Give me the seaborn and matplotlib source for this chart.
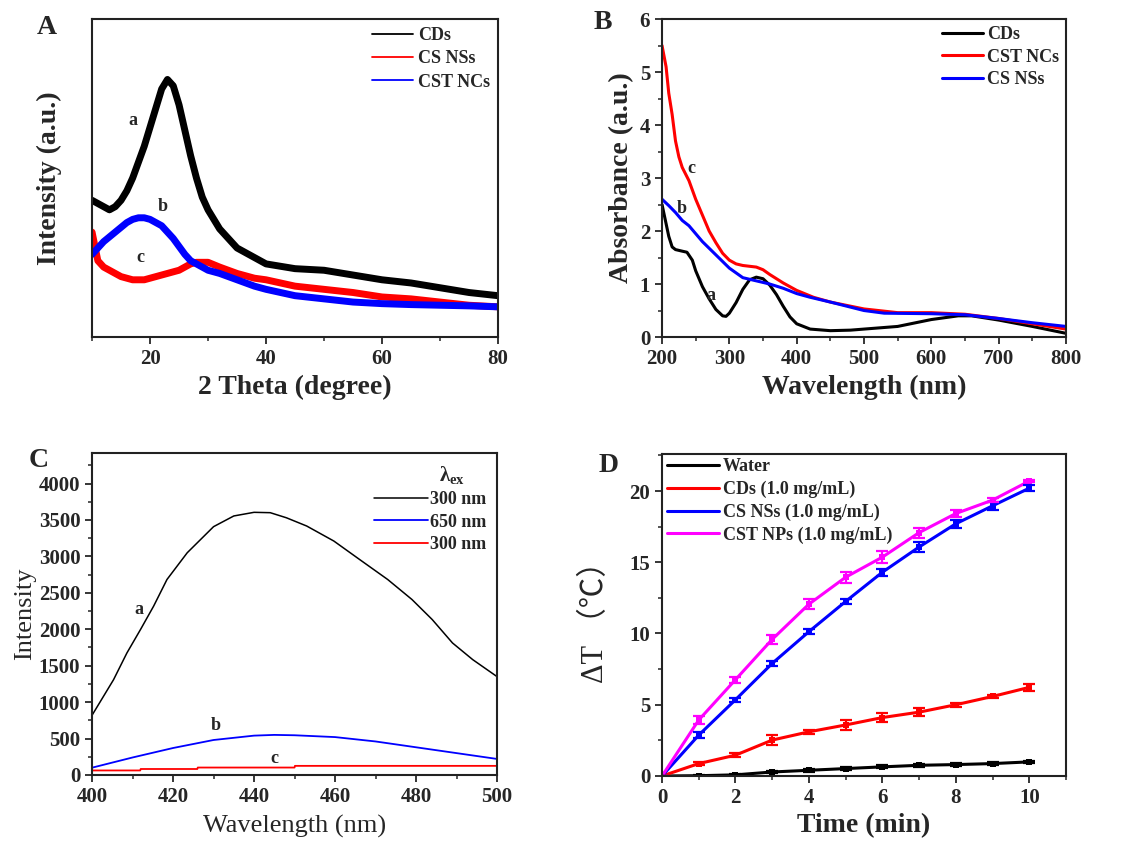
import numpy as np
import pandas as pd
import seaborn as sns
import matplotlib
matplotlib.use('Agg')
import matplotlib.pyplot as plt
from matplotlib.ticker import MultipleLocator

sns.set_style('ticks')
plt.rcParams['font.family'] = ['Liberation Serif', 'Noto Sans CJK SC', 'DejaVu Sans']
plt.rcParams['mathtext.fontset'] = 'custom'
plt.rcParams['mathtext.rm'] = 'Liberation Serif'
plt.rcParams['mathtext.it'] = 'Liberation Serif'
plt.rcParams['mathtext.bf'] = 'Liberation Serif:bold'

# ---- A: XRD (arbitrary intensity) ----
xrd_theta = [10, 11, 12, 13, 14, 15, 16, 17, 18, 19, 20, 21, 22, 23, 24, 25, 26, 27, 28, 29, 30, 32, 35, 38,
             40, 45, 50, 55, 60, 65, 70, 75, 80]
xrd_cds = [43, 42, 41, 40, 41, 43, 46, 50, 55, 60, 66, 72, 78, 81, 79, 73, 65, 57, 50, 44, 40, 34, 28, 25,
           23, 21.5, 21, 19.5, 18, 17, 15.5, 14, 13]
xrd_csns = [33, 24, 22, 21, 20, 19, 18.5, 18, 18, 18, 18.5, 19, 19.5, 20, 20.5, 21, 22, 23, 23.5, 23.5, 23.5, 22,
            20, 18.5, 18, 16, 15, 14, 12.6, 12, 11, 10, 9.5]
xrd_cstnc = [26, 28, 30, 31.5, 33, 34.5, 36, 37, 37.5, 37.5, 37, 36, 35, 33, 31, 28.5, 26, 24, 23, 22, 21, 20,
             18, 16, 15, 13, 12, 11, 10.5, 10.2, 10, 9.8, 9.5]

# ---- B: UV-vis absorbance ----
uv_red_x = [200, 203, 206, 210, 215, 220, 225, 230, 240, 250, 260, 270, 280, 290, 300, 310, 320, 340, 350, 360,
            380, 400, 425, 450, 500, 550, 600, 650, 700, 750, 800]
uv_red_y = [5.5, 5.3, 5.1, 4.6, 4.2, 3.7, 3.4, 3.2, 2.95, 2.6, 2.3, 2.0, 1.78, 1.58, 1.45, 1.38, 1.35, 1.32, 1.27,
            1.18, 1.02, 0.88, 0.75, 0.66, 0.53, 0.46, 0.46, 0.43, 0.35, 0.25, 0.15]
uv_blue_x = [200, 210, 220, 230, 240, 250, 260, 280, 300, 320, 340, 360, 380, 400, 420, 450, 500, 530, 600, 650,
             700, 750, 800]
uv_blue_y = [2.6, 2.48, 2.35, 2.2, 2.1, 1.95, 1.8, 1.55, 1.3, 1.12, 1.06, 1.0, 0.92, 0.82, 0.75, 0.66, 0.5, 0.45,
             0.44, 0.42, 0.35, 0.27, 0.2]
uv_black_x = [200, 205, 210, 215, 220, 230, 237, 245, 250, 260, 270, 280, 290, 295, 300, 310, 320, 330, 340, 350,
              360, 370, 380, 390, 400, 420, 450, 480, 500, 550, 600, 640, 660, 700, 750, 800]
uv_black_y = [2.5, 2.2, 1.9, 1.7, 1.65, 1.62, 1.6, 1.45, 1.25, 0.95, 0.72, 0.52, 0.4, 0.39, 0.45, 0.65, 0.9, 1.08,
              1.13, 1.1, 0.98, 0.8, 0.58, 0.38, 0.25, 0.15, 0.12, 0.13, 0.15, 0.2, 0.33, 0.4, 0.4, 0.32, 0.2, 0.07]

# ---- C: PL spectra ----
pl_a_x = [400, 405.3, 408.6, 412, 415.2, 418.5, 423.5, 430, 435, 440, 444, 448, 453, 459.7, 466, 473, 479, 484,
          489, 494, 500]
pl_a_y = [820, 1307, 1674, 2000, 2317, 2683, 3050, 3408, 3555, 3605, 3600, 3530, 3417, 3211, 2960, 2683, 2408,
          2133, 1812, 1583, 1350]
pl_b_x = [400, 410, 420, 430, 440, 445, 450, 460, 470, 480, 490, 500]
pl_b_y = [100, 240, 370, 480, 540, 550, 545, 520, 460, 380, 300, 220]
pl_c_x = [400, 411.9, 412, 426, 426.1, 450, 450.1, 500]
pl_c_y = [62, 62, 82, 82, 102, 102, 125, 125]

# ---- D: photothermal heating ----
time_min = [0, 1, 2, 3, 4, 5, 6, 7, 8, 9, 10]
dT_water = [0, 0.02, 0.08, 0.28, 0.4, 0.52, 0.64, 0.75, 0.8, 0.87, 0.99]
dT_cds = [0, 0.87, 1.46, 2.52, 3.1, 3.58, 4.1, 4.48, 5.0, 5.58, 6.22]
dT_csns = [0, 2.87, 5.35, 7.9, 10.13, 12.25, 14.3, 16.07, 17.7, 18.96, 20.2]
dT_cstnp = [0, 3.93, 6.76, 9.59, 12.06, 13.95, 15.36, 17.08, 18.42, 19.36, 20.7]
err_water = [0, 0.05, 0.05, 0.1, 0.1, 0.1, 0.1, 0.1, 0.08, 0.08, 0.08]
err_cds = [0, 0.1, 0.15, 0.35, 0.15, 0.35, 0.3, 0.3, 0.15, 0.1, 0.25]
err_csns = [0, 0.2, 0.15, 0.2, 0.2, 0.15, 0.25, 0.35, 0.3, 0.3, 0.2]
err_cstnp = [0, 0.25, 0.2, 0.3, 0.35, 0.4, 0.4, 0.35, 0.25, 0.15, 0.1]

fig = plt.figure(figsize=(11.24, 8.43), dpi=100)
ax_a = fig.add_axes([0.0819, 0.6002, 0.3612, 0.3772])
ax_b = fig.add_axes([0.589, 0.6002, 0.3594, 0.3772])
ax_c = fig.add_axes([0.0819, 0.0807, 0.3603, 0.382])
ax_d = fig.add_axes([0.589, 0.0795, 0.3594, 0.382])

for ax in (ax_a, ax_b, ax_c, ax_d):
    for s in ax.spines.values():
        s.set_linewidth(1.5)
        s.set_color('#222222')
    ax.tick_params(which='major', direction='out', length=5, width=1.3)
    ax.tick_params(which='minor', direction='out', length=3, width=1.1)

tick_font = dict(fontsize=15, fontweight='bold')
leg_font = dict(size=13, weight='bold')

# A
df_a = pd.DataFrame({'theta': xrd_theta * 3,
                     'I': xrd_cds + xrd_csns + xrd_cstnc,
                     'sample': ['CDs'] * len(xrd_theta) + ['CS NSs'] * len(xrd_theta) + ['CST NCs'] * len(xrd_theta)})
sns.lineplot(data=df_a, x='theta', y='I', hue='sample', palette=['black', 'red', 'blue'],
             linewidth=5, ax=ax_a, legend=False)
ax_a.set_xlim(10, 80)
ax_a.set_ylim(0, 100)
ax_a.set_yticks([])
ax_a.set_xticks([20, 40, 60, 80])
ax_a.xaxis.set_minor_locator(MultipleLocator(10))
ax_a.set_xticklabels(['20', '40', '60', '80'], **tick_font)
ax_a.set_xlabel('2 Theta (degree)', fontsize=20, fontweight='bold')
ax_a.set_ylabel('Intensity (a.u.)', fontsize=20, fontweight='bold', labelpad=22)
for x, y, t in [(17.1, 68, 'a'), (22.1, 41, 'b'), (18.4, 25, 'c')]:
    ax_a.text(x, y, t, fontsize=13, fontweight='bold', ha='center', va='center')
for c, lab in zip(['black', 'red', 'blue'], ['CDs', 'CS NSs', 'CST NCs']):
    ax_a.plot([], [], color=c, lw=1.3, label=lab)
ax_a.legend(loc='upper right', frameon=False, prop=leg_font, handlelength=2.3, labelspacing=0.35,
            borderaxespad=0.05, handletextpad=0.25)

# B
sns.lineplot(x=uv_black_x, y=uv_black_y, color='black', linewidth=2.2, ax=ax_b, label='CDs')
sns.lineplot(x=uv_red_x, y=uv_red_y, color='red', linewidth=2.2, ax=ax_b, label='CST NCs')
sns.lineplot(x=uv_blue_x, y=uv_blue_y, color='blue', linewidth=2.2, ax=ax_b, label='CS NSs')
ax_b.set_xlim(200, 800)
ax_b.set_ylim(0, 6)
ax_b.set_xticks(range(200, 801, 100))
ax_b.set_xticklabels([str(v) for v in range(200, 801, 100)], **tick_font)
ax_b.set_yticks(range(0, 7))
ax_b.set_yticklabels([str(v) for v in range(0, 7)], **tick_font)
ax_b.xaxis.set_minor_locator(MultipleLocator(50))
ax_b.yaxis.set_minor_locator(MultipleLocator(0.5))
ax_b.set_xlabel('Wavelength (nm)', fontsize=20, fontweight='bold')
ax_b.set_ylabel('Absorbance (a.u.)', fontsize=20, fontweight='bold')
for x, y, t in [(273, 0.79, 'a'), (229, 2.42, 'b'), (244, 3.18, 'c')]:
    ax_b.text(x, y, t, fontsize=13, fontweight='bold', ha='center', va='center')
ax_b.legend(loc='upper right', frameon=False, prop=leg_font, handlelength=2.3, labelspacing=0.3,
            borderaxespad=0.0, handletextpad=0.2)

# C
sns.lineplot(x=pl_a_x, y=pl_a_y, color='black', linewidth=1.1, ax=ax_c, label='300 nm')
sns.lineplot(x=pl_b_x, y=pl_b_y, color='blue', linewidth=1.3, ax=ax_c, label='650 nm')
sns.lineplot(x=pl_c_x, y=pl_c_y, color='red', linewidth=1.3, ax=ax_c, label='300 nm')
ax_c.set_xlim(400, 500)
ax_c.set_ylim(0, 4420)
ax_c.set_xticks(range(400, 501, 20))
ax_c.set_xticklabels([str(v) for v in range(400, 501, 20)], **tick_font)
ax_c.set_yticks(range(0, 4001, 500))
ax_c.set_yticklabels([str(v) for v in range(0, 4001, 500)], **tick_font)
ax_c.xaxis.set_minor_locator(MultipleLocator(10))
ax_c.yaxis.set_minor_locator(MultipleLocator(250))
ax_c.set_xlabel('Wavelength (nm)', fontsize=19, labelpad=6)
ax_c.set_ylabel('Intensity', fontsize=19, labelpad=2)
for x, y, t in [(411.5, 2270, 'a'), (430.5, 674, 'b'), (444.9, 229, 'c')]:
    ax_c.text(x, y, t, fontsize=13, fontweight='bold', ha='center', va='center')
leg_c = ax_c.legend(loc='upper right', frameon=False, prop=leg_font, handlelength=3.0, labelspacing=0.3,
                    borderaxespad=0.2, handletextpad=0.1, title=r'$\mathbf{\lambda_{ex}}$',
                    title_fontsize=15)
leg_c._legend_box.align = 'center'
leg_c.get_title().set_position((22, 0))

# D
df_d = pd.DataFrame({'t': time_min * 4,
                     'dT': dT_water + dT_cds + dT_csns + dT_cstnp,
                     'group': ['Water'] * 11 + ['CDs (1.0 mg/mL)'] * 11 + ['CS NSs (1.0 mg/mL)'] * 11
                     + ['CST NPs (1.0 mg/mL)'] * 11})
pal_d = ['black', 'red', 'blue', 'magenta']
sns.lineplot(data=df_d, x='t', y='dT', hue='group', palette=pal_d, linewidth=2.2, ax=ax_d,
             marker='s', markersize=4, markeredgewidth=0)
for yv, ev, c in zip([dT_water, dT_cds, dT_csns, dT_cstnp], [err_water, err_cds, err_csns, err_cstnp], pal_d):
    ax_d.errorbar(time_min, yv, yerr=ev, fmt='none', ecolor=c, elinewidth=1.6, capsize=4, capthick=1.6)
ax_d.set_xlim(0, 11)
ax_d.set_ylim(0, 22.6)
ax_d.set_xticks(range(0, 11, 2))
ax_d.set_xticklabels([str(v) for v in range(0, 11, 2)], **tick_font)
ax_d.set_yticks(range(0, 21, 5))
ax_d.set_yticklabels([str(v) for v in range(0, 21, 5)], **tick_font)
ax_d.xaxis.set_minor_locator(MultipleLocator(1))
ax_d.yaxis.set_minor_locator(MultipleLocator(2.5))
ax_d.set_xlabel('Time (min)', fontsize=20, fontweight='bold')
ax_d.set_ylabel('ΔT （℃）', fontsize=22, labelpad=14)
h, l = ax_d.get_legend_handles_labels()
for hh in h:
    hh.set_marker('')
ax_d.legend(h, l, loc='upper left', frameon=False, prop=leg_font, handlelength=2.9, labelspacing=0.3,
            borderaxespad=0.0, handletextpad=0.2, borderpad=0.25)

# panel letters
for x, y, t in [(0.042, 0.967, 'A'), (0.536, 0.973, 'B'), (0.034, 0.454, 'C'), (0.541, 0.448, 'D')]:
    fig.text(x, y, t, fontsize=20, fontweight='bold', ha='center', va='center')

fig.savefig('out.png', dpi=100)
